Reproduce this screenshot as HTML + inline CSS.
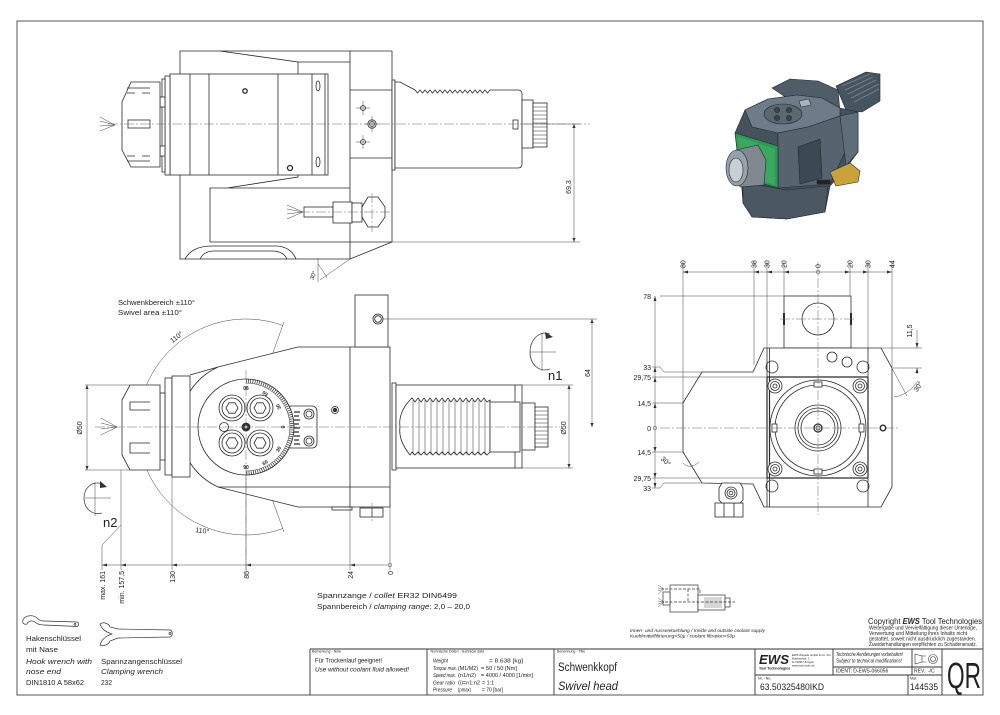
<!DOCTYPE html>
<html><head><meta charset="utf-8"><style>
html,body{margin:0;padding:0;background:#fff;}
svg{display:block}
text{font-family:"Liberation Sans",sans-serif;fill:#222}
.i{font-style:italic}
</style></head><body>
<svg width="1000" height="715" viewBox="0 0 1000 715" xmlns="http://www.w3.org/2000/svg">
<defs>
<marker id="a" viewBox="0 0 10 10" refX="10" refY="5" markerUnits="userSpaceOnUse" markerWidth="5" markerHeight="4" orient="auto-start-reverse"><path d="M0,1 L10,5 L0,9 z" fill="#333"/></marker>
</defs>
<rect width="1000" height="715" fill="#fff"/>
<rect x="17" y="21" width="966" height="674" fill="none" stroke="#555" stroke-width="1"/>

<!-- ================= TOP VIEW ================= -->
<g fill="#fff" stroke="#2a2a2a" stroke-width="0.8">
<path d="M180,74 V51 H392 V242 L350,259 H180 V175"/>
<path d="M185,259 Q192,246 212,246 H277 Q291,247 296,259" fill="none"/>
<path d="M200,259 Q204,251 214,251 H274 Q284,252 287,259" fill="none"/>
<path d="M350,51 V259 M220,51 L298,62 V74 M298,62 H350 M210,242 V188 H227 L298,177 V175 M227,188 H350 M210,242 H392 M350,90 H392 M350,158 H392" fill="none"/>
<rect x="170" y="74" width="158" height="101"/>
<path d="M190,74 V175 M209,74 V175 M278,74 V175 M312,74 V175 M325,74 V175" fill="none"/>
<ellipse cx="318" cy="86" rx="2" ry="5"/>
<ellipse cx="318" cy="162" rx="2" ry="5"/>
<circle cx="245" cy="91" r="2.2" stroke-width="1.3"/>
<circle cx="290" cy="168" r="2.5" stroke-width="1.3"/>
<rect x="165" y="76" width="5" height="99"/>
<rect x="162" y="79" width="3" height="93"/>
<rect x="160" y="97" width="5" height="10"/>
<rect x="160" y="146" width="5" height="10"/>
<polygon points="131,82 160,82 160,167 131,167 122,150 122,102"/>
<path d="M127,88 H150 M127,93 H135 M142,93 H150 M127,161 H150 M127,156 H135 M142,156 H150" fill="none"/>
<rect x="128" y="120" width="22" height="8"/>
<circle cx="363" cy="108" r="2.5"/>
<circle cx="372" cy="124" r="4.2"/>
<circle cx="372" cy="124" r="2.5"/>
<circle cx="363" cy="142" r="2.5"/>
<rect x="304" y="207" width="29" height="10"/>
<rect x="333" y="202" width="19" height="21"/>
<rect x="352" y="203" width="10" height="19"/>
<polygon points="362,207 368,197 378,197 385,207 385,217 378,227 368,227 362,217"/>
<rect x="392" y="80" width="3" height="90"/>
<path d="M395,82 H400 L415,90 L417.5,93 L420,90 L422.5,93 L425,90 L427.5,93 L430,90 L432.5,93 L435,90 L437.5,93 L440,90 L442.5,93 L445,90 L447.5,93 L450,90 L452.5,93 L455,90 L457.5,93 L460,90 L462.5,93 L465,90 L467.5,93 L470,90 L472.5,93 L475,90 L477.5,93 L480,90 L482.5,93 L485,90 L487.5,93 L490,90 H518 Q522,90 522,94 V164 Q522,168 518,168 H395 Z"/>
<rect x="513" y="120" width="5" height="9"/>
<rect x="522" y="100" width="11" height="48"/>
<rect x="533" y="103" width="14" height="44"/>
<path d="M533,107 H547 M533,111 H547 M533,115 H547 M533,119 H547 M533,123 H547 M533,127 H547 M533,131 H547 M533,135 H547 M533,139 H547 M533,143 H547" fill="none" stroke-width="0.5"/>
</g>
<g fill="none" stroke="#444" stroke-width="0.5">
<path d="M115,125 L100,117 M115,125 L100,121 M115,125 L100,126 M115,125 L100,131"/>
<path d="M303,212 L287,205 M303,212 L287,209 M303,212 L287,214 M303,212 L287,219"/>
<path d="M356,108 H370 M363,101 V115 M356,142 H370 M363,135 V149 M364,124 H380 M372,116 V132"/>
<path d="M522,124 H580 M392,242 H580"/>
<path d="M574,124 V242" marker-start="url(#a)" marker-end="url(#a)"/>
<path d="M350,259 L320,280 M318,258 V282 M318,264 Q324,272 327,278"/>
</g>
<path d="M108,124 H590 M372,193 V232 M300,212 H392" fill="none" stroke="#666" stroke-width="0.5" stroke-dasharray="10 2 2 2"/>
<text transform="translate(571,187) rotate(-90)" text-anchor="middle" font-size="7">69,3</text>
<text transform="translate(315,276) rotate(-70)" text-anchor="middle" font-size="6">30°</text>

<!-- ================= 3D RENDER ================= -->
<g stroke="#20282e" stroke-width="0.6" stroke-linejoin="round">
<polygon points="836,86 866,72 880,74 880,101 862,112 846,110" fill="#46545f"/>
<path d="M842,86 L870,74 M845,90 L873,77 M848,94 L876,80 M851,98 L879,84 M854,102 L879,89" stroke="#7d8a95" stroke-width="0.8" fill="none"/>
<polygon points="772,88 790,79 818,81 838,90 840,112 790,100" fill="#4f5d68"/>
<polygon points="735,133 745,110 768,99 797,95 822,98 840,108 858,112 858,152 846,168 830,186 825,212 787,219 752,217 743,203 741,178" fill="#45525c"/>
<polygon points="745,110 768,99 797,95 822,98 840,108 840,116 808,127 778,133 752,127" fill="#6d7c88"/>
<ellipse cx="783" cy="114" rx="19" ry="10" fill="#5a6872"/>
<circle cx="777" cy="110" r="2.6" fill="#3a454d"/>
<circle cx="789" cy="110" r="2.6" fill="#3a454d"/>
<circle cx="777" cy="118" r="2.6" fill="#3a454d"/>
<circle cx="789" cy="118" r="2.6" fill="#3a454d"/>
<polygon points="799,101 809,99 811,105 801,107" fill="#aab4bb"/>
<polygon points="778,133 808,127 840,116 846,150 830,184 778,188" fill="#55646f"/>
<polygon points="840,116 858,112 858,152 846,166" fill="#5e6d78"/>
<polygon points="798,147 820,139 822,178 800,184" fill="#3d4952"/>
<polygon points="743,182 786,190 828,186 825,212 787,219 752,217 743,203" fill="#4b5863"/>
<polygon points="735,133 778,146 778,188 740,177" fill="#2f9a55"/>
<polygon points="738,137 775,149 775,185 742,175" fill="#39a960" stroke="none"/>
<polygon points="736,150 758,145 766,160 764,185 740,187" fill="#7f898f"/>
<ellipse cx="737" cy="168" rx="11" ry="18" fill="#98a1a7"/>
<ellipse cx="736" cy="170" rx="7" ry="12" fill="#c8d0d5"/>
<polygon points="830,172 850,163 860,171 858,182 836,186" fill="#c9a23a"/>
<rect x="817" y="180" width="13" height="4" fill="#222"/>
</g>

<!-- ================= MIDDLE VIEW ================= -->
<g fill="none" stroke="#444" stroke-width="0.5">
<path d="M282.9,325.5 A108,108 0 1 0 282.9,528.5"/>
<path d="M246,427 L284,322 M246,427 L284,532"/>
</g>
<g fill="#fff" stroke="#2a2a2a" stroke-width="0.8">
<path d="M298,347 L218,367 A66,66 0 0 0 218,487 L298,507 H390 V347 Z"/>
<path d="M218,487 H390 M190,375 L218,367 M350,347 V507" fill="none"/>
<rect x="355" y="295" width="33" height="52"/>
<circle cx="378" cy="319" r="5"/>
<circle cx="378" cy="319" r="3.3"/>
<rect x="332" y="507" width="20" height="3"/>
<rect x="360" y="508" width="23" height="9"/>
<path d="M372,508 V517" fill="none"/>
<circle cx="335" cy="410" r="3.5"/>
<circle cx="335" cy="410" r="1.8" fill="#333"/>
<rect x="165" y="378" width="7" height="97"/>
<rect x="172" y="376" width="18" height="101"/>
<rect x="160" y="393" width="5" height="67"/>
<polygon points="130,385 160,385 160,470 130,470 122,455 122,400"/>
<path d="M150,402 H130 V410 H150 M150,443 H130 V453 H150" fill="none"/>
<rect x="286" y="406" width="31" height="42" rx="5"/>
<circle cx="309" cy="414" r="5"/>
<circle cx="309" cy="414" r="3"/>
<circle cx="309" cy="441" r="5"/>
<circle cx="309" cy="441" r="3"/>
<path d="M294,412 H300 M294,416 H299 M294,420 H300 M294,424 H299 M294,428 H300 M294,432 H299 M294,436 H300 M294,440 H299 M294,444 H300" fill="none" stroke-width="1.2"/>
<circle cx="246" cy="427" r="48"/>
<path d="M246,381 A46,46 0 0 1 246,473" fill="none" stroke-width="3.5" stroke-dasharray="0.7 1.5"/>
<path d="M246,383 A44,44 0 0 1 246,471" fill="none" stroke-width="0.5"/>
<circle cx="232" cy="408" r="13"/><circle cx="232" cy="408" r="10"/>
<circle cx="260" cy="408" r="13"/><circle cx="260" cy="408" r="10"/>
<circle cx="232" cy="443" r="13"/><circle cx="232" cy="443" r="10"/>
<circle cx="260" cy="443" r="13"/><circle cx="260" cy="443" r="10"/>
<polygon points="238,408 235,413.2 229,413.2 226,408 229,402.8 235,402.8"/>
<polygon points="266,408 263,413.2 257,413.2 254,408 257,402.8 263,402.8"/>
<polygon points="238,443 235,448.2 229,448.2 226,443 229,437.8 235,437.8"/>
<polygon points="266,443 263,448.2 257,448.2 254,443 257,437.8 263,437.8"/>
<circle cx="224" cy="427" r="4.5"/>
<circle cx="246" cy="427" r="4" fill="#333"/>
<circle cx="246" cy="427" r="1.8"/>
<rect x="392" y="383" width="4" height="87"/>
<rect x="396" y="385" width="126" height="83"/>
<path d="M515,385 V468" fill="none"/>
<path d="M410,400 L412,398 L415,402 L418,398 L421,402 L424,398 L427,402 L430,398 L433,402 L436,398 L439,402 L442,398 L445,402 L448,398 L451,402 L454,398 L457,402 L460,398 L463,402 L466,398 L469,402 L472,398 L475,402 L478,398 L481,402 L484,398 L487,402 L490,400 V452 L487,455 L484,452 L481,455 L478,452 L475,455 L472,452 L469,455 L466,452 L463,455 L460,452 L457,455 L454,452 L451,455 L448,452 L445,455 L442,452 L439,455 L436,452 L433,455 L430,452 L427,455 L424,452 L421,455 L418,452 L415,455 L412,452 L410,455 Q398,440 400,427 Q398,413 410,400 Z"/>
<path d="M413,400 V455 M419,400 V455 M425,400 V455 M431,400 V455 M437,400 V455 M443,400 V455 M449,400 V455 M455,400 V455 M461,400 V455 M467,400 V455 M473,400 V455 M479,400 V455 M485,400 V455" fill="none" stroke-width="0.5"/>
<rect x="490" y="402" width="30" height="50"/>
<rect x="522" y="403" width="13" height="47"/>
<rect x="535" y="407" width="13" height="40"/>
<path d="M535,411 H548 M535,415 H548 M535,419 H548 M535,423 H548 M535,427 H548 M535,431 H548 M535,435 H548 M535,439 H548 M535,443 H548" fill="none" stroke-width="0.5"/>
</g>
<g fill="none" stroke="#444" stroke-width="0.5">
<path d="M117,427 L101,418 M117,427 L101,423 M117,427 L101,429 M117,427 L101,435"/>
<path d="M85,385 H130 M85,470 H130"/>
<path d="M87,385 V470" marker-start="url(#a)" marker-end="url(#a)"/>
<path d="M522,385 H573 M522,468 H573 M383,319 H597"/>
<path d="M569,385 V468" marker-start="url(#a)" marker-end="url(#a)"/>
<path d="M592,319 V427" marker-start="url(#a)" marker-end="url(#a)"/>
<path d="M102,545 V570 M121,470 V570 M121,525 L102,545 M172,477 V570 M246,475 V570 M350,507 V570 M390,507 V570 M102,565 H388"/>
<circle cx="390" cy="565" r="1.8"/>
<path d="M550,334 C538,330 530,341 530,352 C530,364 539,373 550,369" stroke-width="0.8"/>
<path d="M530,352 H556 M542,333 V371"/>
<path d="M103,484 C91,480 84,489 84,498 C84,508 92,516 102,513" stroke-width="0.8"/>
<path d="M85,498 H111 M95,482 V516"/>
</g>
<g fill="#333">
<polygon points="102,565 107,563.5 107,566.5"/>
<polygon points="121,565 126,563.5 126,566.5"/>
<polygon points="172,565 177,563.5 177,566.5"/>
<polygon points="246,565 251,563.5 251,566.5"/>
<polygon points="350,565 355,563.5 355,566.5"/>
<polygon points="545,332 553,337 546,339"/>
<polygon points="100,481 107,487 100,488"/>
</g>
<path d="M95,427 H560 M246,370 V575 M372,503 V521" fill="none" stroke="#666" stroke-width="0.5" stroke-dasharray="10 2 2 2"/>
<g font-size="5" font-weight="bold" text-anchor="middle">
<text transform="translate(246,386) rotate(180)">90</text>
<text transform="translate(266,392) rotate(-148)">60</text>
<text transform="translate(280,406) rotate(-120)">30</text>
<text transform="translate(285,427) rotate(-90)">0</text>
<text transform="translate(280,450) rotate(-60)">30</text>
<text transform="translate(266,464) rotate(-32)">60</text>
<text transform="translate(246,469)">90</text>
</g>
<g font-size="7">
<text x="118" y="305" textLength="77" lengthAdjust="spacingAndGlyphs">Schwenkbereich ±110°</text>
<text x="118" y="315" textLength="64" lengthAdjust="spacingAndGlyphs">Swivel area ±110°</text>
<text transform="translate(178,339) rotate(-38)" text-anchor="middle">110°</text>
<text transform="translate(202,533) rotate(8)" text-anchor="middle">110°</text>
<text transform="translate(82,428) rotate(-90)" text-anchor="middle">Ø50</text>
<text transform="translate(566,428) rotate(-90)" text-anchor="middle">Ø50</text>
<text transform="translate(590,373) rotate(-90)" text-anchor="middle">64</text>
<text transform="translate(105,571) rotate(-90)" text-anchor="end">max. 161</text>
<text transform="translate(124,571) rotate(-90)" text-anchor="end">min. 157,5</text>
<text transform="translate(175,571) rotate(-90)" text-anchor="end">130</text>
<text transform="translate(249,571) rotate(-90)" text-anchor="end">86</text>
<text transform="translate(353,571) rotate(-90)" text-anchor="end">24</text>
<text transform="translate(393,571) rotate(-90)" text-anchor="end">0</text>
<text x="317" y="598" textLength="140" lengthAdjust="spacingAndGlyphs">Spannzange / <tspan class="i">collet</tspan>   ER32   DIN6499</text>
<text x="317" y="609" textLength="153" lengthAdjust="spacingAndGlyphs">Spannbereich / <tspan class="i">clamping range</tspan>: 2,0 – 20,0</text>
</g>
<text x="548" y="380" font-size="13">n1</text>
<text x="103" y="527" font-size="13">n2</text>

<!-- ================= RIGHT VIEW ================= -->
<g fill="#fff" stroke="#2a2a2a" stroke-width="0.8">
<rect x="784" y="296" width="67" height="52"/>
<circle cx="818" cy="319" r="16"/>
<path d="M784,313 V325 M851,313 V325" fill="none" stroke-width="2"/>
<polygon points="764,348 881,348 892,368 892,487 881,507 764,507 753,484 702,483 683,452 683,403 702,372 753,372"/>
<circle cx="772" cy="367" r="6"/>
<circle cx="863" cy="367" r="6"/>
<circle cx="772" cy="486" r="6"/>
<circle cx="863" cy="486" r="6"/>
<path d="M767,348 V507 M769.5,348 V507 M868,348 V507" fill="none"/>
<rect x="767" y="377" width="101" height="101" fill="#fff" stroke="none"/>
<path d="M767,377 H868 M767,478 H868 M767,377 V478 M769.5,377 V478 M868,377 V478" fill="none" stroke-width="1.2"/>
<circle cx="832" cy="357" r="5"/>
<circle cx="847" cy="362" r="5"/>
<circle cx="818" cy="428" r="48"/>
<circle cx="818" cy="428" r="43"/>
<rect x="814" y="382" width="8" height="5"/>
<rect x="814" y="469" width="8" height="5"/>
<rect x="772" y="424" width="5" height="8"/>
<rect x="859" y="424" width="5" height="8"/>
<circle cx="775" cy="386" r="7"/><circle cx="775" cy="386" r="4.5"/><circle cx="775" cy="386" r="2"/>
<circle cx="860" cy="386" r="7"/><circle cx="860" cy="386" r="4.5"/><circle cx="860" cy="386" r="2"/>
<circle cx="775" cy="469" r="7"/><circle cx="775" cy="469" r="4.5"/><circle cx="775" cy="469" r="2"/>
<circle cx="860" cy="469" r="7"/><circle cx="860" cy="469" r="4.5"/><circle cx="860" cy="469" r="2"/>
<circle cx="818" cy="428" r="23"/>
<circle cx="818" cy="428" r="20"/>
<circle cx="818" cy="428" r="17"/>
<circle cx="818" cy="428" r="4" stroke-width="1.3"/>
<circle cx="818" cy="428" r="2"/>
<circle cx="883" cy="428" r="2.8" stroke-width="1.4"/>
<rect x="715" y="503" width="28" height="14"/>
<path d="M724,503 V517 M734,503 V517" fill="none"/>
<polygon points="722,483 740,483 743,488 743,500 740,503 722,503 719,500 719,488"/>
<circle cx="731" cy="493" r="6"/><circle cx="731" cy="493" r="4"/><circle cx="731" cy="493" r="1.8"/>
</g>
<g fill="none" stroke="#444" stroke-width="0.5">
<path d="M683,262 V403 M754,262 V365 M767,262 V348 M784,262 V296 M850,262 V296 M868,262 V348 M892,262 V368 M683,272 H892"/>
<path d="M655,296 V488 M660,296 H784 M652,367 L660,367 L664,372 H702 M652,377 H767 M652,403 H683 M652,452 H683 M652,478 H767 M652,488 L660,488 L664,483 H702"/>
<path d="M881,348 H922 M893,368 H922"/>
<path d="M917,330 V348 M917,368 V374"/>
<path d="M881,348 L907,396 M894,397 Q907,396 918,381"/>
<path d="M683,463 Q690,470 699,462"/>
<circle cx="655" cy="428" r="1.8"/>
<circle cx="818" cy="272" r="1.8"/>
</g>
<g fill="#333">
<polygon points="683,272 688,270.5 688,273.5"/>
<polygon points="754,272 759,270.5 759,273.5"/>
<polygon points="767,272 772,270.5 772,273.5"/>
<polygon points="784,272 789,270.5 789,273.5"/>
<polygon points="850,272 845,270.5 845,273.5"/>
<polygon points="868,272 863,270.5 863,273.5"/>
<polygon points="892,272 887,270.5 887,273.5"/>
<polygon points="655,296 653.5,301 656.5,301"/>
<polygon points="655,367 653.5,372 656.5,372"/>
<polygon points="655,377 653.5,382 656.5,382"/>
<polygon points="655,403 653.5,408 656.5,408"/>
<polygon points="655,452 653.5,447 656.5,447"/>
<polygon points="655,478 653.5,473 656.5,473"/>
<polygon points="655,488 653.5,483 656.5,483"/>
<polygon points="917,348 915.5,343 918.5,343"/>
<polygon points="917,368 915.5,373 918.5,373"/>
</g>
<path d="M818,262 V515 M660,428 H900 M780,319 H856" fill="none" stroke="#666" stroke-width="0.5" stroke-dasharray="10 2 2 2"/>
<g font-size="7">
<g text-anchor="start">
<text transform="translate(685.5,268) rotate(-90)">80</text>
<text transform="translate(756.5,268) rotate(-90)">38</text>
<text transform="translate(769.5,268) rotate(-90)">30</text>
<text transform="translate(786.5,268) rotate(-90)">20</text>
<text transform="translate(820.5,268) rotate(-90)">0</text>
<text transform="translate(852.5,268) rotate(-90)">20</text>
<text transform="translate(870.5,268) rotate(-90)">30</text>
<text transform="translate(894.5,268) rotate(-90)">44</text>
</g>
<g text-anchor="end">
<text x="651" y="299">78</text>
<text x="651" y="370">33</text>
<text x="651" y="380">29,75</text>
<text x="651" y="406">14,5</text>
<text x="651" y="431">0</text>
<text x="651" y="455">14,5</text>
<text x="651" y="481">29,75</text>
<text x="651" y="491">33</text>
</g>
<text transform="translate(912,331) rotate(-90)" text-anchor="middle">11,5</text>
<text transform="translate(920,388) rotate(-55)" text-anchor="middle">30°</text>
<text transform="translate(664,463) rotate(45)" text-anchor="middle">30°</text>
</g>

<!-- ================= COOLANT DIAGRAM ================= -->
<g fill="#fff" stroke="#333" stroke-width="0.7">
<rect x="670" y="585" width="28" height="27"/>
<rect x="663" y="592" width="7" height="13"/>
<rect x="698" y="595" width="27" height="15"/>
<rect x="725" y="598" width="5" height="9"/>
<path d="M705,597 V608 M707,597 V608 M709,597 V608 M711,597 V608 M713,597 V608 M715,597 V608 M717,597 V608 M719,597 V608 M721,597 V608" fill="none" stroke-width="0.4"/>
<path d="M665,589 H700 V594 M665,602 H735 M688,589 V602" fill="none" stroke-dasharray="3 1.5"/>
<path d="M664,589 L658,585 M664,589 L658,588 M664,589 L658,591 M664,589 L658,594 M664,602 L658,598 M664,602 L658,601 M664,602 L658,604 M664,602 L658,607" fill="none" stroke-width="0.4"/>
</g>
<text x="630" y="632" font-size="4.2" class="i" textLength="135" lengthAdjust="spacingAndGlyphs">Innen- und Aussenkuehlung / Inside and outside coolant supply</text>
<text x="630" y="637.5" font-size="4.2" class="i" textLength="105" lengthAdjust="spacingAndGlyphs">Kuehlmittelfiltrierung&lt;50µ / coolant filtration&lt;50µ</text>

<!-- ================= COPYRIGHT ================= -->
<text x="868" y="624" font-size="8.5" textLength="114" lengthAdjust="spacingAndGlyphs">Copyright <tspan font-weight="bold" font-style="italic">EWS</tspan> Tool Technologies</text>
<g font-size="5.2">
<text x="869" y="629.5" textLength="108" lengthAdjust="spacingAndGlyphs">Weitergabe und Vervielfältigung dieser Unterlage,</text>
<text x="869" y="635" textLength="98" lengthAdjust="spacingAndGlyphs">Verwertung und Mitteilung ihres Inhalts nicht</text>
<text x="869" y="640.5" textLength="107" lengthAdjust="spacingAndGlyphs">gestattet, soweit nicht ausdrücklich zugestanden.</text>
<text x="869" y="646" textLength="108" lengthAdjust="spacingAndGlyphs">Zuwiderhandlungen verpflichten zu Schadenersatz.</text>
</g>

<!-- ================= WRENCHES ================= -->
<g fill="#fff" stroke="#333" stroke-width="0.7">
<path d="M38,619 C34,614 25,615 23,620 C22,623 24,625 27,624 C28,621 32,620 35,622 C37,624 40,625 44,625 L77,626.5 C79,626 79,622.5 77,622 L44,621 C41,621 40,620.5 38,619 Z"/>
<circle cx="75" cy="624.3" r="1"/>
<path d="M100,624 C104,621 109,624 110,627 L118,629 L170,630 C173,631 173,636 170,637 L118,638 L110,641 C109,644 104,647 100,645 C101,641 103,639 107,636 L112,634 L107,632 C103,630 101,627 100,624 Z"/>
<circle cx="170" cy="633.5" r="1"/>
</g>
<g font-size="7.2">
<text x="26" y="641" textLength="55" lengthAdjust="spacingAndGlyphs">Hakenschlüssel</text>
<text x="26" y="652" textLength="32" lengthAdjust="spacingAndGlyphs">mit Nase</text>
<text x="26" y="664" class="i" textLength="66" lengthAdjust="spacingAndGlyphs">Hook wrench with</text>
<text x="26" y="674" class="i" textLength="35" lengthAdjust="spacingAndGlyphs">nose end</text>
<text x="26" y="685" textLength="58" lengthAdjust="spacingAndGlyphs">DIN1810  A  58x62</text>
<text x="101" y="664" textLength="81" lengthAdjust="spacingAndGlyphs">Spannzangenschlüssel</text>
<text x="101" y="674" class="i" textLength="62" lengthAdjust="spacingAndGlyphs">Clamping wrench</text>
<text x="101" y="685" textLength="11" lengthAdjust="spacingAndGlyphs">232</text>
</g>

<!-- ================= TITLE BLOCK ================= -->
<g fill="none" stroke="#333" stroke-width="0.9">
<path d="M310,649 H983 M310,649 V695 M427,649 V695 M554,649 V695 M755,649 V695 M833,649 V675 M912,649 V675 M908,675 V695 M942,649 V695 M833,667 H942 M755,675 H942"/>
<path d="M915,654 L922,656 V662 L915,664 Z M922,656 H926 M922,662 H926" stroke-width="0.6"/>
<circle cx="933" cy="659" r="4.5" stroke-width="0.6"/>
<circle cx="933" cy="659" r="2.5" stroke-width="0.6"/>
</g>
<g font-size="3.6" fill="#444">
<text x="312" y="652.5">Bemerkung - Note</text>
<text x="430" y="652.5">Technische Daten - technical data</text>
<text x="557" y="652.5">Benennung - Title</text>
<text x="758" y="679.5">Nr. - No.</text>
<text x="910" y="679.5">Mat.</text>
</g>
<g font-size="6.3">
<text x="315" y="662.5" textLength="67" lengthAdjust="spacingAndGlyphs">Für Trockenlauf geeignet!</text>
<text x="315" y="671.5" class="i" textLength="94" lengthAdjust="spacingAndGlyphs">Use without coolant fluid allowed!</text>
</g>
<g font-size="5.8">
<text x="433" y="662.5" class="i" textLength="15" lengthAdjust="spacingAndGlyphs">Weight</text>
<text x="489" y="662.5" textLength="34" lengthAdjust="spacingAndGlyphs">=  8.638 [kg]</text>
<text x="433" y="669.8" class="i" textLength="24" lengthAdjust="spacingAndGlyphs">Torque max.</text>
<text x="458" y="669.8" textLength="20" lengthAdjust="spacingAndGlyphs">(M1/M2)</text>
<text x="481" y="669.8" textLength="36" lengthAdjust="spacingAndGlyphs">=  50 / 50 [Nm]</text>
<text x="433" y="677.1" class="i" textLength="23" lengthAdjust="spacingAndGlyphs">Speed max.</text>
<text x="458" y="677.1" textLength="18" lengthAdjust="spacingAndGlyphs">(n1/n2)</text>
<text x="481" y="677.1" textLength="52" lengthAdjust="spacingAndGlyphs">=  4000 / 4000 [1/min]</text>
<text x="433" y="684.4" class="i" textLength="22" lengthAdjust="spacingAndGlyphs">Gear ratio</text>
<text x="458" y="684.4" textLength="22" lengthAdjust="spacingAndGlyphs">(i)=n1:n2</text>
<text x="482" y="684.4" textLength="12" lengthAdjust="spacingAndGlyphs">=  1:1</text>
<text x="433" y="691.7" class="i" textLength="19" lengthAdjust="spacingAndGlyphs">Pressure</text>
<text x="458" y="691.7" textLength="13" lengthAdjust="spacingAndGlyphs">(pmax)</text>
<text x="482" y="691.7" textLength="21" lengthAdjust="spacingAndGlyphs">=  70 [bar]</text>
</g>
<text x="558" y="671" font-size="11.5" textLength="59" lengthAdjust="spacingAndGlyphs">Schwenkkopf</text>
<text x="558" y="690" font-size="11.5" class="i" textLength="60" lengthAdjust="spacingAndGlyphs">Swivel head</text>
<text x="759" y="664" font-size="13" font-weight="bold" font-style="italic" textLength="30" lengthAdjust="spacingAndGlyphs">EWS</text>
<text x="759" y="669.5" font-size="3.6" font-weight="bold">Tool Technologies</text>
<g font-size="2.8" fill="#444">
<text x="792" y="656">EWS Weigele GmbH &amp; Co. KG</text>
<text x="792" y="659.5">Maybachstr. 1</text>
<text x="792" y="663">D-73095 Uhingen</text>
<text x="792" y="666.5">www.ews-tools.de</text>
</g>
<g font-size="5" class="i">
<text x="836" y="656" textLength="67" lengthAdjust="spacingAndGlyphs">Technische Aenderungen vorbehalten!</text>
<text x="836" y="662.5" textLength="66" lengthAdjust="spacingAndGlyphs">Subject to technical modifications!</text>
</g>
<text x="836" y="672.5" font-size="5">IDENT:  D-EWS-066056</text>
<text x="914" y="672.5" font-size="5">REV.:  -/C</text>
<text x="760" y="690" font-size="9.5" textLength="64" lengthAdjust="spacingAndGlyphs">63.50325480IKD</text>
<text x="938" y="690" font-size="9.5" text-anchor="end" textLength="28" lengthAdjust="spacingAndGlyphs">144535</text>
<text x="947" y="688" font-size="36" textLength="34" lengthAdjust="spacingAndGlyphs">QR</text>
</svg>
</body></html>
